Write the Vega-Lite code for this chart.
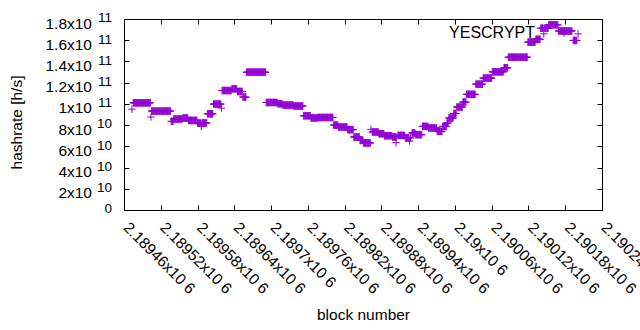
{
"$schema": "https://vega.github.io/schema/vega-lite/v6.json",
"width": 478,
"height": 191,
"autosize": {"type": "none"},
"padding": {"left": 124, "top": 19, "right": 38, "bottom": 120},
"config": {
  "font": "Liberation Sans",
  "view": {"stroke": "#000000", "strokeWidth": 1},
  "axis": {"grid": false, "domainColor": "#000000", "tickColor": "#000000", "labelColor": "#000000", "titleColor": "#000000", "labelFont": "Liberation Sans", "titleFont": "Liberation Sans", "labelFontSize": 15.5, "titleFontSize": 15.5, "titleFontWeight": "normal", "tickSize": -5, "labelFlush": false, "labelOverlap": false}
},
"data": {"values": [
{"b":2189473,"h":9.5e10},
{"b":2189475,"h":1.01e11},{"b":2189476,"h":1.01e11},{"b":2189477,"h":1.01e11},{"b":2189478,"h":1.01e11},{"b":2189479,"h":1.01e11},{"b":2189480,"h":1.01e11},{"b":2189481,"h":1.01e11},{"b":2189482,"h":1.01e11},{"b":2189483,"h":1.01e11},{"b":2189484,"h":1.01e11},{"b":2189485,"h":1.01e11},{"b":2189486,"h":1.01e11},{"b":2189487,"h":1.01e11},{"b":2189488,"h":1.01e11},{"b":2189489,"h":1.01e11},{"b":2189490,"h":1.01e11},{"b":2189491,"h":1.01e11},{"b":2189492,"h":1.01e11},{"b":2189493,"h":1.01e11},{"b":2189494,"h":1.01e11},{"b":2189495,"h":1.01e11},{"b":2189496,"h":1.01e11},{"b":2189497,"h":1.01e11},{"b":2189498,"h":1.01e11},{"b":2189499,"h":1.01e11},{"b":2189500,"h":1.01e11},{"b":2189501,"h":1.01e11},{"b":2189502,"h":1.01e11},{"b":2189503,"h":1.01e11},
{"b":2189504,"h":8.76e10},
{"b":2189505,"h":9.32e10},{"b":2189506,"h":9.32e10},{"b":2189507,"h":9.32e10},{"b":2189508,"h":9.32e10},{"b":2189509,"h":9.32e10},{"b":2189510,"h":9.32e10},{"b":2189511,"h":9.32e10},{"b":2189512,"h":9.32e10},{"b":2189513,"h":9.32e10},{"b":2189514,"h":9.32e10},{"b":2189515,"h":9.32e10},{"b":2189516,"h":9.32e10},{"b":2189517,"h":9.32e10},{"b":2189518,"h":9.32e10},{"b":2189519,"h":9.32e10},{"b":2189520,"h":9.32e10},{"b":2189521,"h":9.32e10},{"b":2189522,"h":9.32e10},{"b":2189523,"h":9.32e10},{"b":2189524,"h":9.32e10},{"b":2189525,"h":9.32e10},{"b":2189526,"h":9.32e10},{"b":2189527,"h":9.32e10},{"b":2189528,"h":9.32e10},{"b":2189529,"h":9.32e10},{"b":2189530,"h":9.32e10},{"b":2189531,"h":9.32e10},{"b":2189532,"h":9.32e10},{"b":2189533,"h":9.32e10},{"b":2189534,"h":9.32e10},{"b":2189535,"h":9.32e10},{"b":2189536,"h":9.32e10},
{"b":2189537,"h":8.35e10},{"b":2189538,"h":8.35e10},{"b":2189539,"h":8.35e10},{"b":2189540,"h":8.35e10},
{"b":2189541,"h":8.57e10},{"b":2189542,"h":8.57e10},{"b":2189543,"h":8.57e10},{"b":2189544,"h":8.57e10},{"b":2189545,"h":8.57e10},{"b":2189546,"h":8.57e10},{"b":2189547,"h":8.57e10},{"b":2189548,"h":8.57e10},{"b":2189549,"h":8.57e10},{"b":2189550,"h":8.57e10},{"b":2189551,"h":8.57e10},{"b":2189552,"h":8.57e10},{"b":2189553,"h":8.57e10},{"b":2189554,"h":8.57e10},{"b":2189555,"h":8.57e10},
{"b":2189556,"h":8.67e10},{"b":2189557,"h":8.67e10},{"b":2189558,"h":8.67e10},{"b":2189559,"h":8.67e10},{"b":2189560,"h":8.67e10},{"b":2189561,"h":8.67e10},{"b":2189562,"h":8.67e10},{"b":2189563,"h":8.67e10},{"b":2189564,"h":8.67e10},
{"b":2189565,"h":8.44e10},{"b":2189566,"h":8.44e10},{"b":2189567,"h":8.44e10},{"b":2189568,"h":8.44e10},{"b":2189569,"h":8.44e10},{"b":2189570,"h":8.44e10},{"b":2189571,"h":8.44e10},{"b":2189572,"h":8.44e10},{"b":2189573,"h":8.44e10},{"b":2189574,"h":8.44e10},{"b":2189575,"h":8.44e10},{"b":2189576,"h":8.44e10},{"b":2189577,"h":8.44e10},{"b":2189578,"h":8.44e10},{"b":2189579,"h":8.44e10},
{"b":2189580,"h":8.2e10},{"b":2189581,"h":8.2e10},{"b":2189582,"h":8.2e10},{"b":2189583,"h":8.2e10},{"b":2189584,"h":8.2e10},{"b":2189585,"h":8.2e10},{"b":2189586,"h":7.88e10},{"b":2189587,"h":8.2e10},{"b":2189588,"h":8.2e10},{"b":2189589,"h":8.2e10},{"b":2189590,"h":8.2e10},{"b":2189591,"h":8.2e10},{"b":2189592,"h":8.2e10},{"b":2189593,"h":8.2e10},{"b":2189594,"h":8.2e10},{"b":2189595,"h":8.2e10},
{"b":2189596,"h":9.07e10},{"b":2189597,"h":9.07e10},{"b":2189598,"h":9.07e10},{"b":2189599,"h":9.07e10},{"b":2189600,"h":9.07e10},{"b":2189601,"h":9.07e10},{"b":2189602,"h":9.07e10},{"b":2189603,"h":9.07e10},{"b":2189604,"h":9.07e10},{"b":2189605,"h":9.07e10},
{"b":2189606,"h":9.98e10},{"b":2189607,"h":9.98e10},{"b":2189608,"h":9.98e10},{"b":2189609,"h":9.98e10},{"b":2189610,"h":9.98e10},{"b":2189611,"h":9.98e10},{"b":2189612,"h":9.98e10},{"b":2189613,"h":9.98e10},{"b":2189614,"h":9.98e10},{"b":2189615,"h":9.98e10},{"b":2189616,"h":9.98e10},{"b":2189617,"h":9.98e10},{"b":2189618,"h":9.98e10},{"b":2189619,"h":9.6e10},
{"b":2189620,"h":1.126e11},{"b":2189621,"h":1.126e11},{"b":2189622,"h":1.126e11},{"b":2189623,"h":1.126e11},{"b":2189624,"h":1.126e11},{"b":2189625,"h":1.126e11},{"b":2189626,"h":1.126e11},{"b":2189627,"h":1.126e11},{"b":2189628,"h":1.126e11},{"b":2189629,"h":1.126e11},{"b":2189630,"h":1.126e11},{"b":2189631,"h":1.126e11},{"b":2189632,"h":1.126e11},{"b":2189633,"h":1.126e11},{"b":2189634,"h":1.126e11},{"b":2189635,"h":1.126e11},
{"b":2189636,"h":1.142e11},{"b":2189637,"h":1.142e11},{"b":2189638,"h":1.142e11},{"b":2189639,"h":1.142e11},{"b":2189640,"h":1.142e11},{"b":2189641,"h":1.142e11},{"b":2189642,"h":1.142e11},{"b":2189643,"h":1.142e11},{"b":2189644,"h":1.142e11},
{"b":2189645,"h":1.117e11},{"b":2189646,"h":1.117e11},{"b":2189647,"h":1.117e11},{"b":2189648,"h":1.117e11},{"b":2189649,"h":1.117e11},{"b":2189650,"h":1.117e11},{"b":2189651,"h":1.117e11},{"b":2189652,"h":1.117e11},{"b":2189653,"h":1.117e11},
{"b":2189654,"h":1.064e11},{"b":2189655,"h":1.064e11},{"b":2189656,"h":1.064e11},{"b":2189657,"h":1.064e11},{"b":2189658,"h":1.064e11},{"b":2189659,"h":1.064e11},
{"b":2189660,"h":1.299e11},{"b":2189661,"h":1.299e11},{"b":2189662,"h":1.299e11},{"b":2189663,"h":1.299e11},{"b":2189664,"h":1.299e11},{"b":2189665,"h":1.299e11},{"b":2189666,"h":1.299e11},{"b":2189667,"h":1.299e11},{"b":2189668,"h":1.299e11},{"b":2189669,"h":1.299e11},{"b":2189670,"h":1.299e11},{"b":2189671,"h":1.299e11},{"b":2189672,"h":1.299e11},{"b":2189673,"h":1.299e11},{"b":2189674,"h":1.299e11},{"b":2189675,"h":1.299e11},{"b":2189676,"h":1.299e11},{"b":2189677,"h":1.299e11},{"b":2189678,"h":1.299e11},{"b":2189679,"h":1.299e11},{"b":2189680,"h":1.299e11},{"b":2189681,"h":1.299e11},{"b":2189682,"h":1.299e11},{"b":2189683,"h":1.299e11},{"b":2189684,"h":1.299e11},{"b":2189685,"h":1.299e11},{"b":2189686,"h":1.299e11},{"b":2189687,"h":1.299e11},{"b":2189688,"h":1.299e11},{"b":2189689,"h":1.299e11},{"b":2189690,"h":1.299e11},{"b":2189691,"h":1.299e11},
{"b":2189692,"h":1.013e11},{"b":2189693,"h":1.013e11},{"b":2189694,"h":1.013e11},{"b":2189695,"h":1.013e11},{"b":2189696,"h":1.013e11},{"b":2189697,"h":1.013e11},{"b":2189698,"h":1.013e11},{"b":2189699,"h":1.013e11},{"b":2189700,"h":1.013e11},{"b":2189701,"h":1.013e11},{"b":2189702,"h":1.013e11},{"b":2189703,"h":1.013e11},{"b":2189704,"h":1.013e11},{"b":2189705,"h":1.013e11},{"b":2189706,"h":1.013e11},{"b":2189707,"h":1.013e11},{"b":2189708,"h":1.013e11},{"b":2189709,"h":1.013e11},{"b":2189710,"h":1.013e11},
{"b":2189711,"h":1.001e11},{"b":2189712,"h":1.001e11},{"b":2189713,"h":1.001e11},{"b":2189714,"h":1.001e11},{"b":2189715,"h":1.001e11},{"b":2189716,"h":1.001e11},{"b":2189717,"h":1.001e11},{"b":2189718,"h":1.001e11},
{"b":2189719,"h":9.89e10},{"b":2189720,"h":9.89e10},{"b":2189721,"h":9.89e10},{"b":2189722,"h":9.89e10},{"b":2189723,"h":9.89e10},{"b":2189724,"h":9.89e10},{"b":2189725,"h":9.89e10},{"b":2189726,"h":9.89e10},{"b":2189727,"h":9.89e10},{"b":2189728,"h":9.89e10},{"b":2189729,"h":9.89e10},{"b":2189730,"h":9.89e10},{"b":2189731,"h":9.89e10},{"b":2189732,"h":9.89e10},{"b":2189733,"h":9.89e10},{"b":2189734,"h":9.89e10},{"b":2189735,"h":9.89e10},{"b":2189736,"h":9.89e10},
{"b":2189737,"h":9.8e10},{"b":2189738,"h":9.8e10},{"b":2189739,"h":9.8e10},{"b":2189740,"h":9.8e10},{"b":2189741,"h":9.8e10},{"b":2189742,"h":9.8e10},{"b":2189743,"h":9.8e10},{"b":2189744,"h":9.8e10},{"b":2189745,"h":9.8e10},{"b":2189746,"h":9.8e10},{"b":2189747,"h":9.8e10},{"b":2189748,"h":9.8e10},{"b":2189749,"h":9.8e10},{"b":2189750,"h":9.8e10},{"b":2189751,"h":9.8e10},{"b":2189752,"h":9.8e10},
{"b":2189753,"h":8.88e10},{"b":2189754,"h":8.88e10},{"b":2189755,"h":8.88e10},{"b":2189756,"h":8.88e10},{"b":2189757,"h":8.88e10},{"b":2189758,"h":8.88e10},{"b":2189759,"h":8.88e10},{"b":2189760,"h":8.88e10},{"b":2189761,"h":8.88e10},{"b":2189762,"h":8.88e10},{"b":2189763,"h":8.88e10},{"b":2189764,"h":8.88e10},
{"b":2189765,"h":8.67e10},{"b":2189766,"h":8.67e10},{"b":2189767,"h":8.67e10},{"b":2189768,"h":8.67e10},{"b":2189769,"h":8.67e10},{"b":2189770,"h":8.67e10},{"b":2189771,"h":8.67e10},{"b":2189772,"h":8.67e10},{"b":2189773,"h":8.67e10},{"b":2189774,"h":8.67e10},{"b":2189775,"h":8.67e10},
{"b":2189776,"h":8.72e10},{"b":2189777,"h":8.72e10},{"b":2189778,"h":8.72e10},{"b":2189779,"h":8.72e10},{"b":2189780,"h":8.72e10},{"b":2189781,"h":8.72e10},{"b":2189782,"h":8.72e10},{"b":2189783,"h":8.72e10},{"b":2189784,"h":8.72e10},{"b":2189785,"h":8.72e10},{"b":2189786,"h":8.72e10},{"b":2189787,"h":8.72e10},{"b":2189788,"h":8.72e10},{"b":2189789,"h":8.72e10},{"b":2189790,"h":8.72e10},{"b":2189791,"h":8.72e10},{"b":2189792,"h":8.72e10},{"b":2189793,"h":8.72e10},{"b":2189794,"h":8.72e10},{"b":2189795,"h":8.72e10},{"b":2189796,"h":8.72e10},{"b":2189797,"h":8.72e10},{"b":2189798,"h":8.72e10},{"b":2189799,"h":8.72e10},{"b":2189800,"h":8.72e10},{"b":2189801,"h":8.72e10},
{"b":2189802,"h":8.0e10},{"b":2189803,"h":8.0e10},{"b":2189804,"h":8.0e10},{"b":2189805,"h":8.0e10},{"b":2189806,"h":8.0e10},{"b":2189807,"h":8.0e10},{"b":2189808,"h":8.0e10},{"b":2189809,"h":8.0e10},
{"b":2189810,"h":7.82e10},{"b":2189811,"h":7.82e10},{"b":2189812,"h":7.82e10},{"b":2189813,"h":7.82e10},{"b":2189814,"h":7.82e10},{"b":2189815,"h":7.82e10},{"b":2189816,"h":7.82e10},{"b":2189817,"h":7.82e10},{"b":2189818,"h":7.82e10},{"b":2189819,"h":7.82e10},{"b":2189820,"h":7.82e10},{"b":2189821,"h":7.82e10},{"b":2189822,"h":7.82e10},{"b":2189823,"h":7.82e10},{"b":2189824,"h":7.82e10},
{"b":2189825,"h":7.57e10},{"b":2189826,"h":7.57e10},{"b":2189827,"h":7.57e10},{"b":2189828,"h":7.57e10},{"b":2189829,"h":7.57e10},{"b":2189830,"h":7.57e10},{"b":2189831,"h":7.57e10},{"b":2189832,"h":7.57e10},{"b":2189833,"h":7.57e10},{"b":2189834,"h":7.57e10},
{"b":2189835,"h":6.88e10},{"b":2189836,"h":6.88e10},{"b":2189837,"h":6.88e10},{"b":2189838,"h":6.88e10},{"b":2189839,"h":6.88e10},{"b":2189840,"h":6.88e10},{"b":2189841,"h":6.88e10},{"b":2189842,"h":6.88e10},{"b":2189843,"h":6.88e10},{"b":2189844,"h":6.88e10},
{"b":2189845,"h":6.56e10},{"b":2189846,"h":6.56e10},{"b":2189847,"h":6.56e10},{"b":2189848,"h":6.56e10},{"b":2189849,"h":6.56e10},{"b":2189850,"h":6.56e10},
{"b":2189851,"h":6.32e10},{"b":2189852,"h":6.32e10},{"b":2189853,"h":6.32e10},{"b":2189854,"h":6.32e10},{"b":2189855,"h":6.32e10},{"b":2189856,"h":6.32e10},{"b":2189857,"h":6.32e10},{"b":2189858,"h":6.32e10},{"b":2189859,"h":6.32e10},{"b":2189860,"h":6.32e10},{"b":2189861,"h":6.32e10},{"b":2189862,"h":6.32e10},
{"b":2189863,"h":7.6e10},
{"b":2189865,"h":7.35e10},{"b":2189866,"h":7.35e10},{"b":2189867,"h":7.35e10},{"b":2189868,"h":7.35e10},{"b":2189869,"h":7.35e10},{"b":2189870,"h":7.35e10},{"b":2189871,"h":7.35e10},{"b":2189872,"h":7.35e10},{"b":2189873,"h":7.35e10},{"b":2189874,"h":7.35e10},{"b":2189875,"h":7.35e10},
{"b":2189876,"h":7.19e10},{"b":2189877,"h":7.19e10},{"b":2189878,"h":7.19e10},{"b":2189879,"h":7.19e10},{"b":2189880,"h":7.19e10},{"b":2189881,"h":7.19e10},{"b":2189882,"h":7.19e10},{"b":2189883,"h":7.19e10},{"b":2189884,"h":7.19e10},
{"b":2189885,"h":7.0e10},{"b":2189886,"h":7.0e10},{"b":2189887,"h":7.0e10},{"b":2189888,"h":7.0e10},{"b":2189889,"h":7.0e10},{"b":2189890,"h":7.0e10},{"b":2189891,"h":7.0e10},{"b":2189892,"h":7.0e10},{"b":2189893,"h":7.0e10},{"b":2189894,"h":7.0e10},{"b":2189895,"h":7.0e10},{"b":2189896,"h":7.0e10},{"b":2189897,"h":7.0e10},
{"b":2189898,"h":6.88e10},{"b":2189899,"h":6.88e10},{"b":2189900,"h":6.88e10},{"b":2189901,"h":6.88e10},{"b":2189902,"h":6.88e10},{"b":2189903,"h":6.88e10},{"b":2189904,"h":6.35e10},{"b":2189905,"h":6.88e10},
{"b":2189907,"h":7.03e10},{"b":2189908,"h":7.03e10},{"b":2189909,"h":7.03e10},{"b":2189910,"h":7.03e10},{"b":2189911,"h":7.03e10},{"b":2189912,"h":7.03e10},{"b":2189913,"h":7.03e10},{"b":2189914,"h":7.03e10},{"b":2189915,"h":7.03e10},{"b":2189916,"h":7.03e10},{"b":2189917,"h":7.03e10},{"b":2189918,"h":7.03e10},
{"b":2189919,"h":6.79e10},{"b":2189920,"h":6.79e10},{"b":2189921,"h":6.79e10},{"b":2189922,"h":6.79e10},{"b":2189923,"h":6.79e10},{"b":2189924,"h":6.79e10},{"b":2189925,"h":6.79e10},{"b":2189926,"h":6.5e10},{"b":2189927,"h":6.79e10},{"b":2189928,"h":6.79e10},
{"b":2189930,"h":7.26e10},{"b":2189931,"h":7.26e10},{"b":2189932,"h":7.26e10},{"b":2189933,"h":7.26e10},{"b":2189934,"h":7.26e10},{"b":2189935,"h":7.26e10},
{"b":2189936,"h":7.1e10},{"b":2189937,"h":7.1e10},{"b":2189938,"h":7.1e10},{"b":2189939,"h":7.1e10},{"b":2189940,"h":7.1e10},{"b":2189941,"h":7.1e10},{"b":2189942,"h":7.1e10},{"b":2189943,"h":7.1e10},{"b":2189944,"h":7.1e10},{"b":2189945,"h":7.1e10},{"b":2189946,"h":7.1e10},
{"b":2189947,"h":7.88e10},{"b":2189948,"h":7.88e10},{"b":2189949,"h":7.88e10},{"b":2189950,"h":7.88e10},{"b":2189951,"h":7.88e10},{"b":2189952,"h":7.88e10},{"b":2189953,"h":7.88e10},{"b":2189954,"h":7.88e10},{"b":2189955,"h":7.88e10},{"b":2189956,"h":7.88e10},
{"b":2189957,"h":7.73e10},{"b":2189958,"h":7.73e10},{"b":2189959,"h":7.73e10},{"b":2189960,"h":7.73e10},{"b":2189961,"h":7.73e10},{"b":2189962,"h":7.73e10},{"b":2189963,"h":7.73e10},{"b":2189964,"h":7.73e10},{"b":2189965,"h":7.73e10},{"b":2189966,"h":7.73e10},{"b":2189967,"h":7.73e10},{"b":2189968,"h":7.73e10},{"b":2189969,"h":7.73e10},{"b":2189970,"h":7.73e10},
{"b":2189971,"h":7.41e10},{"b":2189972,"h":7.41e10},{"b":2189973,"h":7.41e10},{"b":2189974,"h":7.41e10},{"b":2189975,"h":7.41e10},{"b":2189976,"h":7.41e10},{"b":2189977,"h":7.41e10},{"b":2189978,"h":7.41e10},{"b":2189979,"h":7.41e10},
{"b":2189980,"h":7.88e10},{"b":2189981,"h":7.88e10},{"b":2189982,"h":7.88e10},{"b":2189983,"h":7.88e10},{"b":2189984,"h":7.88e10},{"b":2189985,"h":7.88e10},{"b":2189986,"h":7.88e10},
{"b":2189987,"h":8.2e10},{"b":2189988,"h":8.2e10},{"b":2189989,"h":8.2e10},
{"b":2189990,"h":8.67e10},{"b":2189991,"h":8.67e10},{"b":2189992,"h":8.67e10},{"b":2189993,"h":8.67e10},{"b":2189994,"h":8.67e10},{"b":2189995,"h":8.67e10},{"b":2189996,"h":8.67e10},{"b":2189997,"h":8.67e10},
{"b":2189998,"h":9.1e10},{"b":2189999,"h":9.1e10},{"b":2190000,"h":9.1e10},{"b":2190001,"h":9.1e10},{"b":2190002,"h":9.1e10},
{"b":2190003,"h":9.7e10},{"b":2190004,"h":9.7e10},{"b":2190005,"h":9.7e10},{"b":2190006,"h":9.7e10},{"b":2190007,"h":9.7e10},{"b":2190008,"h":9.7e10},{"b":2190009,"h":9.7e10},{"b":2190010,"h":9.7e10},{"b":2190011,"h":9.7e10},{"b":2190012,"h":9.7e10},
{"b":2190013,"h":1.017e11},{"b":2190014,"h":1.017e11},{"b":2190015,"h":1.017e11},{"b":2190016,"h":1.017e11},{"b":2190017,"h":1.017e11},{"b":2190018,"h":1.017e11},
{"b":2190019,"h":1.09e11},{"b":2190020,"h":1.09e11},{"b":2190021,"h":1.09e11},{"b":2190022,"h":1.09e11},{"b":2190023,"h":1.09e11},{"b":2190024,"h":1.09e11},{"b":2190025,"h":1.09e11},{"b":2190026,"h":1.09e11},{"b":2190027,"h":1.09e11},{"b":2190028,"h":1.09e11},{"b":2190029,"h":1.09e11},{"b":2190030,"h":1.09e11},{"b":2190031,"h":1.09e11},{"b":2190032,"h":1.09e11},{"b":2190033,"h":1.09e11},
{"b":2190034,"h":1.186e11},{"b":2190035,"h":1.186e11},{"b":2190036,"h":1.186e11},{"b":2190037,"h":1.186e11},{"b":2190038,"h":1.186e11},{"b":2190039,"h":1.186e11},{"b":2190040,"h":1.186e11},{"b":2190041,"h":1.186e11},{"b":2190042,"h":1.186e11},{"b":2190043,"h":1.186e11},{"b":2190044,"h":1.186e11},{"b":2190045,"h":1.186e11},
{"b":2190046,"h":1.243e11},{"b":2190047,"h":1.243e11},{"b":2190048,"h":1.243e11},{"b":2190049,"h":1.243e11},{"b":2190050,"h":1.243e11},{"b":2190051,"h":1.243e11},{"b":2190052,"h":1.243e11},{"b":2190053,"h":1.243e11},{"b":2190054,"h":1.243e11},{"b":2190055,"h":1.243e11},{"b":2190056,"h":1.243e11},{"b":2190057,"h":1.243e11},{"b":2190058,"h":1.243e11},{"b":2190059,"h":1.243e11},{"b":2190060,"h":1.243e11},
{"b":2190061,"h":1.302e11},{"b":2190062,"h":1.302e11},{"b":2190063,"h":1.302e11},{"b":2190064,"h":1.302e11},{"b":2190065,"h":1.302e11},{"b":2190066,"h":1.302e11},{"b":2190067,"h":1.302e11},{"b":2190068,"h":1.302e11},{"b":2190069,"h":1.302e11},{"b":2190070,"h":1.302e11},{"b":2190071,"h":1.302e11},{"b":2190072,"h":1.302e11},{"b":2190073,"h":1.302e11},{"b":2190074,"h":1.302e11},{"b":2190075,"h":1.302e11},{"b":2190076,"h":1.302e11},{"b":2190077,"h":1.302e11},{"b":2190078,"h":1.302e11},{"b":2190079,"h":1.302e11},
{"b":2190080,"h":1.34e11},{"b":2190081,"h":1.34e11},{"b":2190082,"h":1.34e11},{"b":2190083,"h":1.34e11},{"b":2190084,"h":1.34e11},{"b":2190085,"h":1.34e11},{"b":2190086,"h":1.34e11},
{"b":2190087,"h":1.44e11},{"b":2190088,"h":1.44e11},{"b":2190089,"h":1.44e11},{"b":2190090,"h":1.44e11},{"b":2190091,"h":1.44e11},{"b":2190092,"h":1.44e11},{"b":2190093,"h":1.44e11},{"b":2190094,"h":1.44e11},{"b":2190095,"h":1.44e11},{"b":2190096,"h":1.44e11},{"b":2190097,"h":1.44e11},{"b":2190098,"h":1.44e11},{"b":2190099,"h":1.44e11},{"b":2190100,"h":1.44e11},{"b":2190101,"h":1.44e11},{"b":2190102,"h":1.44e11},{"b":2190103,"h":1.44e11},{"b":2190104,"h":1.44e11},{"b":2190105,"h":1.44e11},{"b":2190106,"h":1.44e11},{"b":2190107,"h":1.44e11},{"b":2190108,"h":1.44e11},{"b":2190109,"h":1.44e11},{"b":2190110,"h":1.44e11},{"b":2190111,"h":1.44e11},{"b":2190112,"h":1.44e11},{"b":2190113,"h":1.44e11},{"b":2190114,"h":1.44e11},{"b":2190115,"h":1.44e11},{"b":2190116,"h":1.44e11},{"b":2190117,"h":1.44e11},{"b":2190118,"h":1.44e11},
{"b":2190119,"h":1.582e11},{"b":2190120,"h":1.582e11},{"b":2190121,"h":1.582e11},{"b":2190122,"h":1.582e11},{"b":2190123,"h":1.582e11},{"b":2190124,"h":1.582e11},{"b":2190125,"h":1.582e11},{"b":2190126,"h":1.582e11},{"b":2190127,"h":1.582e11},{"b":2190128,"h":1.582e11},{"b":2190129,"h":1.582e11},{"b":2190130,"h":1.582e11},{"b":2190131,"h":1.582e11},
{"b":2190132,"h":1.609e11},{"b":2190133,"h":1.609e11},{"b":2190134,"h":1.609e11},{"b":2190135,"h":1.609e11},{"b":2190136,"h":1.609e11},{"b":2190137,"h":1.609e11},{"b":2190138,"h":1.609e11},{"b":2190139,"h":1.609e11},
{"b":2190140,"h":1.713e11},{"b":2190141,"h":1.713e11},{"b":2190142,"h":1.713e11},{"b":2190143,"h":1.713e11},{"b":2190144,"h":1.713e11},{"b":2190145,"h":1.66e11},{"b":2190146,"h":1.713e11},{"b":2190147,"h":1.713e11},{"b":2190148,"h":1.713e11},{"b":2190149,"h":1.713e11},{"b":2190150,"h":1.713e11},{"b":2190151,"h":1.713e11},{"b":2190152,"h":1.713e11},
{"b":2190153,"h":1.745e11},{"b":2190154,"h":1.745e11},{"b":2190155,"h":1.745e11},{"b":2190156,"h":1.745e11},{"b":2190157,"h":1.745e11},{"b":2190158,"h":1.745e11},{"b":2190159,"h":1.745e11},{"b":2190160,"h":1.745e11},{"b":2190161,"h":1.745e11},{"b":2190162,"h":1.745e11},{"b":2190163,"h":1.745e11},{"b":2190164,"h":1.745e11},{"b":2190165,"h":1.745e11},{"b":2190166,"h":1.745e11},{"b":2190167,"h":1.745e11},{"b":2190168,"h":1.745e11},
{"b":2190169,"h":1.687e11},{"b":2190170,"h":1.687e11},{"b":2190171,"h":1.687e11},{"b":2190172,"h":1.687e11},{"b":2190173,"h":1.687e11},{"b":2190174,"h":1.687e11},{"b":2190175,"h":1.687e11},{"b":2190176,"h":1.687e11},{"b":2190177,"h":1.687e11},{"b":2190178,"h":1.687e11},{"b":2190179,"h":1.687e11},{"b":2190180,"h":1.687e11},{"b":2190181,"h":1.687e11},{"b":2190182,"h":1.687e11},{"b":2190183,"h":1.687e11},{"b":2190184,"h":1.687e11},{"b":2190185,"h":1.687e11},{"b":2190186,"h":1.687e11},{"b":2190187,"h":1.687e11},{"b":2190188,"h":1.687e11},{"b":2190189,"h":1.687e11},{"b":2190190,"h":1.687e11},{"b":2190191,"h":1.687e11},
{"b":2190193,"h":1.598e11},{"b":2190194,"h":1.598e11},{"b":2190195,"h":1.598e11},{"b":2190196,"h":1.598e11},{"b":2190197,"h":1.598e11},{"b":2190198,"h":1.598e11},{"b":2190199,"h":1.598e11},
{"b":2190201,"h":1.66e11}
]},
"layer": [
  {
    "mark": {"type": "point", "shape": "M-1,0H1M0,-1V1", "size": 56, "filled": false, "strokeWidth": 1, "opacity": 1},
    "encoding": {
      "x": {"field": "b", "type": "quantitative", "scale": {"domain": [2189460, 2190240], "nice": false, "zero": false},
        "axis": {"title": "block number", "values": [2189460,2189520,2189580,2189640,2189700,2189760,2189820,2189880,2189940,2190000,2190060,2190120,2190180,2190240],
          "labelExpr": "format(datum.value/1e6, '.6~g') + 'x10 6'", "labelAngle": 45, "labelAlign": "left", "labelBaseline": "alphabetic", "labelPadding": 23, "labelOffset": -2,
          "titleY": 109, "titleBaseline": "alphabetic", "titleAnchor": "middle"}},
      "y": {"field": "h", "type": "quantitative", "scale": {"domain": [0, 1.8e11], "nice": false, "zero": true},
        "axis": {"title": "hashrate [h/s]", "values": [0,2e10,4e10,6e10,8e10,1e11,1.2e11,1.4e11,1.6e11,1.8e11],
          "labelExpr": "datum.value == 0 ? '' : (datum.value >= 1e11 ? format(datum.value/1e11, '~g') + 'x10' : format(datum.value/1e10, '~g') + 'x10')",
          "labelBaseline": "middle", "labelOffset": 4, "labelPadding": 37.5,
          "titleX": -103, "titleY": 103, "titleAngle": -90, "titleBaseline": "alphabetic", "titleAnchor": "middle"}},
      "color": {"datum": "YESCRYPT", "type": "nominal", "scale": {"range": ["#9400d3"]},
        "legend": {"title": null, "orient": "none", "legendX": 432, "legendY": 6, "padding": 0, "symbolType": "M-1,0H1M0,-1V1", "symbolSize": 56, "symbolStrokeWidth": 1, "labelAlign": "right", "labelOffset": -37, "labelFontSize": 16, "labelFont": "Liberation Sans", "labelColor": "#000000"}}
    }
  },
  {
    "mark": {"type": "point", "opacity": 0},
    "encoding": {
      "x": {"field": "b", "type": "quantitative", "scale": {"domain": [2189460, 2190240], "nice": false, "zero": false},
        "axis": {"orient": "top", "title": null, "labels": false, "domain": false, "values": [2189460,2189520,2189580,2189640,2189700,2189760,2189820,2189880,2189940,2190000,2190060,2190120,2190180,2190240]}},
      "y": {"field": "h", "type": "quantitative", "scale": {"domain": [0, 1.8e11], "nice": false, "zero": true},
        "axis": {"orient": "right", "title": null, "labels": false, "domain": false, "values": [0,2e10,4e10,6e10,8e10,1e11,1.2e11,1.4e11,1.6e11,1.8e11]}}
    }
  },
  {
    "mark": {"type": "point", "opacity": 0},
    "encoding": {
      "y": {"field": "h", "type": "quantitative", "scale": {"domain": [0, 1.8e11], "nice": false, "zero": true},
        "axis": {"orient": "left", "title": null, "domain": false, "ticks": false, "tickSize": 0, "values": [0,2e10,4e10,6e10,8e10,1e11,1.2e11,1.4e11,1.6e11,1.8e11],
          "labelExpr": "datum.value == 0 ? '0' : (datum.value >= 1e11 ? '11' : '10')",
          "labelFontSize": 13.5, "labelAlign": "right", "labelBaseline": "middle", "labelOffset": -1.2, "labelPadding": 12.5}}
    }
  }
],
"resolve": {"axis": {"x": "independent", "y": "independent"}}
}
